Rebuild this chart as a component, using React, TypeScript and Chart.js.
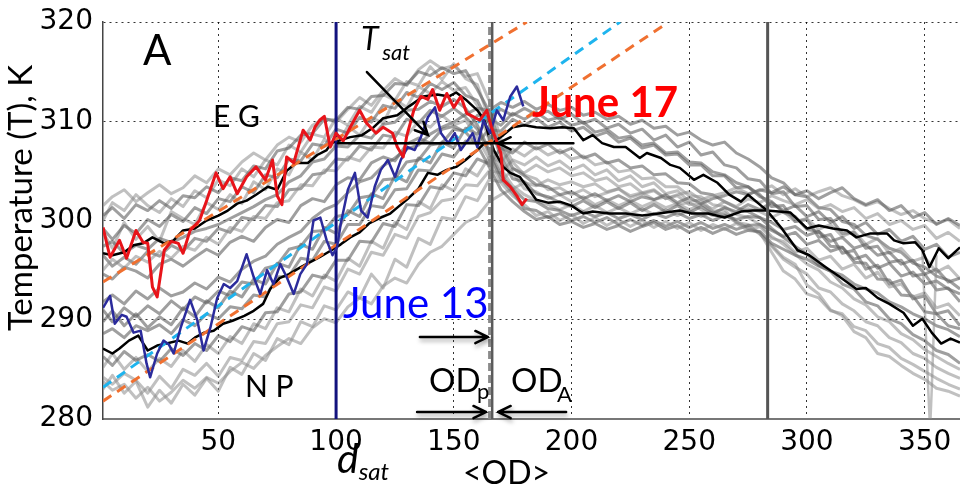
import React, { useEffect, useRef } from 'react';
import { Chart, registerables } from 'chart.js';
Chart.register(...registerables);

// ---------- data ----------
const X_TICKS = [50, 100, 150, 200, 250, 300, 350];
const Y_TICKS = [280, 290, 300, 310, 320];

const DAYS = [1,5,10,15,20,25,30,35,40,45,50,55,60,65,70,75,80,85,90,95,100,105,110,115,120,125,130,135,140,145,150,155,160,165,170,175,180,185,190,195,200,205,210,215,220,225,230,235,240,245,250,255,260,265,270,275,280,285,290,295,300,305,310,315,320,325,330,335,340,345,350,355,360,365];

const EG_1 = [300.5,301.3,300.2,301.6,301,302,301.2,302.5,302.3,303.4,302.8,304.3,304,305.5,305.2,307,307.3,308.6,308.8,310.2,310.1,311.4,311.2,312.5,312.6,313.8,313.7,315,314.6,315.4,314.8,315.1,313.2,311,307.5,305.3,304.5,303.6,303.4,302.6,302.9,302.2,302.7,302,302.5,301.9,302.4,302.1,302.6,301.8,302.3,301.7,302.2,302.5,302.9,302.6,303.1,302.8,303.4,302.6,303,302.2,302.8,303.3,302.2,301.6,302.1,301,301.5,300.3,300.8,299.6,300.2,299.5];
const EG_2 = [295,296.1,295.2,296.4,295.8,296.9,296.2,297.4,297,298.3,297.6,299.3,298.9,300.4,300.2,301.8,302,303.6,303.5,305.1,305,306.4,306,307.4,307.3,308.9,308.5,310,309.4,310.6,309.6,310.1,308.3,306.2,303.8,302.5,301.6,300.5,300.9,300,300.6,299.7,300.3,299.5,300.1,299.4,300,299.3,299.9,299.2,299.8,299,299.6,299.1,299.7,299,299.4,298.2,297.9,296.8,297.2,296,296.4,295.1,295.6,294.2,294.8,293.3,293.6,292.3,292.7,291.2,291.6,290.4];
const EG_3 = [299.2,298.1,299.5,298.7,300.1,299.4,300.6,299.9,301.3,300.7,302.2,301.9,303.4,302.8,304.6,304.3,306.2,306,307.7,307.5,309.2,308.8,310.4,309.9,311.6,311.3,312.9,312.4,313.8,313.2,313.9,312.6,312.1,309.8,306.4,304.2,303.9,302.7,302.4,301.8,301.4,302,301.3,301.9,301.2,301.8,301,301.6,300.9,301.5,300.8,301.4,300.7,301.3,300.9,301.6,301.1,301.8,301,301.5,300.4,300.9,299.8,300.4,299.2,299.8,298.6,299.1,297.9,298.4,297.1,297.6,296.3,296.8];
const EG_4 = [297.4,297.9,296.7,297.5,297.1,298.2,297.8,298.3,298.9,299.2,299.6,300.2,300.8,301.4,302.1,302.6,303.9,304.5,305.9,306.2,307.5,307.4,308.6,308.3,309.7,309.9,311.1,311.2,312,311.5,312.2,311.3,309.6,307.1,304.6,303.2,302.1,301.9,301.2,301,300.5,300.9,300.4,300.8,300.2,300.6,300.1,300.7,300.3,300.8,300.2,300.6,300,300.5,300.1,300.4,300.3,299.8,299.1,299.4,298.5,298.9,297.9,298.3,297.2,297.6,296.5,296.8,295.6,296,294.6,295.1,293.8,294.2];
const EG_5 = [300,301.8,301,302.6,301.5,300.8,302.2,301.4,303,302.3,304.1,303.5,305.2,304.4,306.1,305.6,307.6,306.9,308.7,308.4,310.3,309.6,311.5,310.9,312.7,312.1,314,313.6,315.5,314.2,315.8,314.3,313.7,310.2,306.9,304.8,303.2,302.9,302.2,302.6,301.9,302.4,301.6,302.1,301.5,302,301.4,301.9,301.3,301.7,301.1,301.6,301.2,301.9,301.4,302.2,301.8,302.5,302,301.6,302.1,301.2,301.6,300.9,301.3,300.2,300.7,299.6,300,299.1,299.5,298.2,298.8,297.9];
const EG_6 = [296.5,295.4,296.3,295.6,296.9,296.4,297.5,296.9,298.2,297.9,299.2,298.8,300.3,300.1,301.5,301.4,303.1,303.2,304.6,304.8,306.2,306.1,307.5,307.1,308.6,308.4,310.2,309.8,311.1,310.5,311.3,310.4,309.2,306.8,304.2,302.8,301.2,301,300.3,300.7,300,300.4,299.8,300.3,299.6,300.1,299.5,300,299.4,299.9,299.3,299.8,299.2,299.6,299.1,299.5,299.6,299,298.4,298.8,297.6,298,296.9,297.3,296.1,296.5,295.2,295.7,294.4,294.8,293.6,293.9,293.1,292.6];
const EG_7 = [298.8,297.2,299.8,298.1,299.4,297.9,300.9,300.2,299.6,301.8,301.1,302.6,301.7,303.9,303.1,305.2,304.6,306.9,306.1,308.2,307.4,309.5,308.6,310.4,309.8,312.2,311.4,313.5,312.8,314,313.1,313.4,311.6,308.1,305.2,303.5,302.6,302,301.6,301.1,301.6,300.9,301.5,300.8,301.3,300.7,301.2,300.6,301.1,300.5,301,300.4,300.9,300.3,300.8,301.2,300.9,300.3,300.9,299.9,300.2,299.1,299.6,298.4,298.9,297.6,298.2,296.7,297.2,295.9,296.3,294.8,295.4,294.1];
const EG_8 = [301.5,302.4,303.1,301.9,302.8,303.6,302.7,303.3,304.5,303.8,305.2,304.6,305.9,306.8,306.1,307.6,308.4,307.9,309.6,310.3,309.9,311.2,312.4,311.6,313.1,314.3,313.6,315.2,316.1,315.3,315.6,314.5,314.8,312.1,308.2,305.9,304.6,304.2,303.1,303.3,302.6,303.1,302.4,302.8,303.2,302.3,302.7,303,302.2,302.6,302.9,302.1,302.5,302.8,303.3,302.7,303,303.5,302.6,303.2,302.4,302.9,303.3,302.5,302.1,301.5,301.9,301.2,300.6,301,300.2,299.7,300.1,299.2];
const EG_9 = [294.6,294.1,295.3,294.9,294.2,295.6,296.1,295.4,296.3,297.1,296.5,297.8,298.4,297.9,299.3,300.1,299.8,301.5,302.2,301.9,303.6,304.3,304.1,305.8,306.4,306,307.7,308.3,307.8,309.2,309.5,308.9,307.6,305.4,303.1,301.9,300.9,300.1,300.4,299.6,299.9,299.3,299.7,299.1,299.5,298.9,299.4,299.8,299.1,299.5,298.8,299.3,298.7,299.2,298.6,299,298.9,297.7,297.1,296.5,296.1,295.4,294.9,294.5,293.6,293.1,292.7,291.8,291.3,290.6,290.1,289.4,289,288.3];

const NP_1 = [291,289.8,291.2,290.3,291.4,290.6,291.9,291,292.3,291.7,292.9,292.4,293.8,293.6,295.2,295.5,297.1,297.4,298.9,299,300.4,300.6,302.3,302.5,304.1,304.2,305.9,306.1,307.6,307.8,309.2,309,310.6,310.4,311.2,310.6,311.3,310.7,311,310.2,310.7,309.8,310.2,309.3,309.7,308.8,309.2,308.1,308.6,307.4,307.9,306.6,306.9,305.6,305.3,304.2,304,302.7,302.9,301.4,301.5,300.1,300.2,298.7,298.8,297.2,297.4,295.8,296,294.4,294.6,293,293.2,291.8];
const NP_2 = [284.2,283.5,284.6,283.9,282.6,284.3,283.1,285,284.4,285.6,284.3,286.2,285.9,287.8,287.6,289.6,289.8,291.5,291.2,293.3,292.9,295.1,294.6,296.8,296.5,298.6,298.2,300.4,300.8,302,302.2,303.6,303.5,305,304.8,306.1,305.6,306.4,305.5,306,305.1,305.6,304.6,305.1,304,304.5,303.4,303.8,302.7,303,301.9,302.1,300.9,301.1,299.8,299.6,298.6,297.5,296.3,295.6,293.5,292.6,291,290.4,288.8,288.2,286.6,286.3,285.4,284.6,284,283.1,282.8,282.3];
const NP_3 = [288.6,289.1,288.2,289.4,288.9,289.5,288.6,290,289.4,290.6,290.1,291.3,291.1,292.5,292.3,294.3,294.4,296.2,296,297.9,297.6,299.6,299.6,301.5,301.3,303.1,303.2,305.1,305,306.7,306.4,308,307.8,309.2,309,310.2,309.6,310.3,309.4,309.9,309,309.4,308.5,308.9,307.9,308.3,307.3,307.6,306.6,306.7,305.6,305.6,304.5,304.5,303.3,303.4,302.4,301.9,300.8,300.4,299.1,298.9,297.4,297.3,295.8,295.7,294.1,294,292.5,292.4,290.8,290.6,289.4,289.1];
const NP_4 = [286.3,285.4,286.8,285.9,286.5,285.8,287.1,286.4,287.6,286.9,288.4,287.8,289.3,288.9,290.7,290.8,292.6,292.8,294.5,294.2,296,296,297.9,297.8,299.7,299.4,301.6,301.5,303.4,303.2,304.8,304.5,306.2,305.7,307.3,306.8,307.9,307.2,307.7,306.8,307.3,306.3,306.7,305.8,306.1,305.3,305.5,304.6,304.7,303.8,303.7,302.8,302.6,301.9,301.3,300.9,300.3,299.2,298.3,297.4,296.6,295.5,294.9,293.6,293.1,291.8,291.4,290.1,289.6,288.5,287.9,286.9,286.5,285.6];
const NP_5 = [283,284.4,282.6,283.8,281.2,282.9,281.6,283.5,282.4,284.1,282.8,285.2,284.5,286.6,285.9,288.1,287.5,289.8,289.3,291.4,291,292.8,292.2,294.6,293.2,296.1,295.3,298.2,297.6,300.3,300.1,302.4,302,304.1,303.9,305.2,304.8,305.6,304.9,305.3,304.5,304.8,304,304.3,303.4,303.7,302.8,303.1,302.2,302.5,301.6,301.7,300.8,300.6,299.8,299.3,298.8,296.8,294.9,294.1,292.6,292.2,290.9,290.6,289.3,288.9,287.6,287.2,286.1,285.5,284.8,284.1,283.5,283];
const NP_6 = [289.8,290.9,289.4,290.6,289.2,290.3,289.5,291.2,290.3,291.9,291.2,292.9,292.3,294.1,293.6,295.7,295.3,297.6,297.1,299.3,298.7,301,300.4,302.7,302.2,304.5,303.9,306.3,305.8,307.9,307.3,309.3,308.7,310.3,309.6,310.8,310.2,310.9,310.1,310.4,309.6,309.9,308.9,309.2,308.3,308.5,307.6,307.8,306.8,306.9,305.9,305.8,304.9,304.6,303.8,303.4,302.6,301.4,301.5,299.9,300.1,298.3,298.6,296.7,297,295.1,295.5,293.6,294,292.1,292.4,290.6,290.9,289.4];
const NP_7 = [285.2,286.6,285,286.2,284.8,286.1,285.3,286.9,285.8,287.5,286.6,288.3,287.6,289.6,289.1,291.2,290.8,293.1,292.4,294.5,293.9,296.2,295.4,297.9,297.2,299.8,299.1,301.9,301.2,303.6,303,305.2,304.5,306.4,305.9,307.2,306.5,307.4,306.6,307.1,306.2,306.5,305.6,305.9,304.9,305.1,304.2,304.3,303.4,303.4,302.5,302.4,301.6,301.4,300.6,300.3,299.6,298.4,297.6,296.6,295.6,295,293.8,293.2,292.1,291.5,290.3,289.8,288.6,288,287,286.3,285.6,285];
const NP_8 = [291.8,292.5,291.6,292.9,292.1,293.2,292.4,292.8,293.7,293.1,294.3,293.8,295.1,295.9,296.4,297.6,298.3,298.9,300.2,301.1,301.6,302.8,303.9,304.3,305.5,306.3,307.2,307.6,308.7,309.4,309.9,310.7,311.3,311.1,311.9,311.4,312,311.2,311.7,311.1,311.4,310.6,310.9,310.2,310.5,309.7,310.1,309.3,309.5,308.6,308.9,308.1,307.6,307.9,306.8,306.2,305.4,304.3,303.8,302.6,302.4,301.3,301.1,299.9,299.6,298.5,298.1,297.2,296.8,295.7,295.3,294.4,294,293.1];
const NP_9 = [283.8,282.9,283.5,282.1,283.2,281.8,282.7,283.9,283.1,284.2,283.6,284.8,285.7,285.1,286.4,287.3,288.1,287.6,289.2,290.1,289.7,291.3,292.2,291.6,293.4,294.2,293.7,295.6,296.8,297.4,298.6,299.8,300.4,301.9,302.6,303.2,303.8,303.5,304.1,303.6,303.9,303.4,303.7,302.9,303.2,302.5,302.8,302.1,302.4,301.6,301.8,301.1,300.5,300.8,299.9,299.2,298.7,297.4,296.1,295.3,294.6,293.2,292.8,291.6,290.9,289.8,289.4,288.2,287.7,286.6,286.1,285.2,284.6,284.1];

const SPIKE_DAYS = [349, 351.5, 352.3, 353, 355];
const SPIKE_T = [297, 283, 279, 283, 296.5];

const BLACK_EG_DAYS = [1,5,10,14,18,22,27,31,35,40,45,50,54,58,62,66,71,75,79,83,88,92,96,98,102,106,111,116,120,126,131,137,143,148,151,155,160,163,165,167,171,174,178,182,185,190,195,200,205,209,216,223,230,237,246,251,258,265,272,277,283,288,293,300,305,311,317,321,327,334,337,341,346,349,352,356,360,365];
const BLACK_EG_T = [296.7,296.5,296.8,297.5,297.7,298.3,297.7,298,299,299.2,300,300.5,301,301.7,302,302.6,303.4,303.1,305,305.8,305.8,306.6,307.1,307.8,308.1,308.4,308.6,309.4,310.3,310.6,311.5,312.5,312.7,312.5,312.9,312.2,311.1,310.1,308.4,307.1,305.4,304.8,304.4,303.1,302.1,301.8,301.9,301.5,300.7,300.9,300.7,300.7,300.5,300.7,301,300.7,300.7,300.3,300.9,301,301,300.9,300.8,299.2,299.5,299.2,299,298.3,298.7,298.7,298,297.7,297.8,297,295.3,297.2,296.2,297.3];

const BLACK_NP_DAYS = [1,5,8,12,16,20,24,28,33,37,40,44,48,52,56,61,65,69,72,76,80,85,89,93,98,102,106,110,114,119,123,126,131,135,139,143,147,151,155,160,163,167,171,175,180,185,191,196,201,205,209,213,218,223,229,232,238,242,246,252,256,262,267,272,275,280,283,289,296,301,308,314,321,325,330,335,341,345,349,353,357,361,365];
const BLACK_NP_T = [287.1,286.6,287.1,287.9,288.4,286.9,287.4,287.6,287.9,287.6,288.2,288.7,288.9,289.6,289.9,290.4,290.9,291.6,293.1,294.2,294.6,295.3,295.8,296.3,297,297.6,298.3,298.8,299.7,300.3,300.7,301.3,302.3,303.2,304.8,304.6,305.1,305.4,306.1,307.1,307.8,307.9,308.6,309.4,309.6,309.4,309.3,309.4,309.3,308.1,308.6,307.8,307.4,307.4,306.3,306.8,306.3,305.6,305.3,304.1,304.6,303.8,302.6,301.9,302.6,301.6,301,299.3,297,296.5,295.3,294.3,293.1,293.2,292.2,291.6,290.7,289.4,290.1,288.7,287.6,288.1,287.7];

const JUNE17_DAYS = [1,4,8,11,15,18,20,22,24,27,30,33,35,38,42,45,49,52,55,58,62,66,70,73,75,77,79,82,86,89,91,93,95,97.5,100,103,106,110,113,117,120,124,126,128.5,130,133,136,139,141,144,147,150,153,155.5,158,161,164,166,168,170,171,174,177,179,181];
const JUNE17_T = [299.3,296.3,298,296.2,299,297.8,297.7,293.3,292.3,297,297.9,297.7,296.7,299,300,302,304.8,303.2,304.4,302.7,304.4,305.4,304.1,306.1,302.5,301.6,306.4,305.8,309.1,308.1,309.4,310.1,310.5,307.4,308.8,308,309.4,311.1,309.8,308.8,309.4,308.8,307.4,306.4,308.5,311.1,312.5,312.2,313.2,311.1,312.8,311.4,312.5,310.8,310.5,310.1,311.1,309.4,308.1,306.8,304.1,303.4,302.4,301.6,302.2];

const JUNE13_DAYS = [1,4,6,9,11,14,17,19.5,21,24,26.7,29,31,34,38,41,43.7,46.6,49.5,52.3,55,58,62,65,67.8,70.7,73.4,76.3,79,82,84.8,87.6,90.4,93.3,96,98.5,100.4,102,105,108,110.6,113.4,116.4,119,122,125,127.5,130.4,133.4,136,139,142,144.6,147.6,150.4,153,156,158,160,162.6,165.4,168.3,171,174,176.8,179.5];
const JUNE13_T = [291.2,292.4,289.6,290.5,290.3,288.7,288.9,285.6,284.2,286.6,287.9,287.5,286.6,289.2,292,290,286.9,289.2,292.2,293.6,293.2,293.9,296.6,294.3,292.6,295,293.6,295.6,294.3,292.6,294.6,295.6,300,300.3,298,296.5,297.3,299.7,303.1,304.8,301,300.3,303.4,305.1,306.1,304.4,306.1,307.4,307.1,308.4,310.4,311.4,308.8,307.8,308.8,307.1,308.1,308.8,307.4,310.1,308.8,311.1,310.1,312.5,313.5,311.5];

// dashed reference lines [start, end]
const ORANGE_UP_DAYS = [1, 181];
const ORANGE_UP_T = [293.8, 320];
const CYAN_DAYS = [1, 220.6];
const CYAN_T = [283.2, 320];
const ORANGE_LO_DAYS = [1, 240];
const ORANGE_LO_T = [281.8, 319.8];

// vertical markers
const D_SAT = 100;
const OD_P = 165.2;
const OD_A = 166.3;
const LATE_MARK = 283.3;

function pts(xs: number[], ys: number[]) {
  return xs.map((x, i) => ({ x, y: ys[i] }));
}

function ln(data: any[], color: string, width: number, order: number, dash: number[] = []) {
  return {
    data,
    borderColor: color,
    backgroundColor: color,
    borderWidth: width,
    pointRadius: 0,
    pointHoverRadius: 0,
    fill: false,
    tension: 0,
    order,
    borderDash: dash,
    borderCapStyle: 'butt' as const,
    borderJoinStyle: 'round' as const,
  };
}

const GRAY_DARK = 'rgba(95,95,95,0.6)';
const GRAY_LIGHT = 'rgba(140,140,140,0.55)';

const annotPlugin = {
  id: 'annot',
  afterDatasetsDraw(chart: any) {
    const { ctx } = chart;
    const xs = chart.scales.x;
    const ys = chart.scales.y;
    const px = (v: number) => xs.getPixelForValue(v);
    const py = (v: number) => ys.getPixelForValue(v);

    ctx.save();
    ctx.textBaseline = 'alphabetic';
    ctx.textAlign = 'left';
    const texts = [
      { t: 'A', x: 18, y: 315.7, f: '42px Lato', c: '#000' },
      { t: 'E G', x: 47.7, y: 309.4, f: '30px Lato', c: '#000' },
      { t: 'N P', x: 61.3, y: 282.2, f: '30px Lato', c: '#000' },
      { t: 'T', x: 110.6, y: 317.2, f: 'italic 32px Lato', c: '#000' },
      { t: 'sat', x: 119.6, y: 316.17, f: 'italic 22px Lato', c: '#000' },
      { t: 'June 17', x: 183.2, y: 310.43, f: 'bold 42px Lato', c: '#ff0000' },
      { t: 'June 13', x: 102.9, y: 290.18, f: '42px Lato', c: '#0000ff' },
      { t: 'OD', x: 139.5, y: 282.72, f: '33px Lato', c: '#000' },
      { t: 'p', x: 159.8, y: 282.0, f: '22px Lato', c: '#000' },
      { t: 'OD', x: 174.3, y: 282.72, f: '33px Lato', c: '#000' },
      { t: 'A', x: 193.8, y: 281.71, f: '22px Lato', c: '#000' },
      { t: 'd', x: 100.4, y: 274.56, f: 'italic 41px Lato', c: '#000' },
      { t: 'sat', x: 109.6, y: 273.85, f: 'italic 24px Lato', c: '#000' },
      { t: '<OD>', x: 153.9, y: 273.45, f: '32px Lato', c: '#000' },
    ];
    for (const t of texts) {
      ctx.font = t.f;
      ctx.fillStyle = t.c;
      ctx.fillText(t.t, px(t.x), py(t.y));
    }

    const arrow = (x1: number, y1: number, x2: number, y2: number, head: boolean, shadow: boolean) => {
      const a1 = px(x1), b1 = py(y1), a2 = px(x2), b2 = py(y2);
      ctx.save();
      if (shadow) {
        ctx.shadowColor = 'rgba(0,0,0,0.35)';
        ctx.shadowBlur = 4;
        ctx.shadowOffsetX = 1;
        ctx.shadowOffsetY = 3;
      }
      ctx.strokeStyle = '#000';
      ctx.lineWidth = 2.5;
      ctx.lineCap = 'round';
      ctx.beginPath();
      ctx.moveTo(a1, b1);
      ctx.lineTo(a2, b2);
      if (head) {
        const ang = Math.atan2(b2 - b1, a2 - a1);
        const L = 14, sp = 0.45;
        ctx.moveTo(a2 - L * Math.cos(ang - sp), b2 - L * Math.sin(ang - sp));
        ctx.lineTo(a2, b2);
        ctx.lineTo(a2 - L * Math.cos(ang + sp), b2 - L * Math.sin(ang + sp));
      }
      ctx.stroke();
      ctx.restore();
    };
    arrow(113.1, 314.96, 139.0, 308.61, true, false);
    arrow(100.8, 307.78, 168.8, 307.78, false, false);
    arrow(200.8, 307.78, 168.8, 307.78, true, false);
    arrow(135.6, 288.26, 164.5, 288.26, true, true);
    arrow(134.4, 280.7, 163.7, 280.7, true, true);
    arrow(197.7, 280.7, 168.8, 280.7, true, true);

    ctx.restore();

    // y axis title
    ctx.save();
    ctx.translate(32, 198);
    ctx.rotate(-Math.PI / 2);
    ctx.font = '33px Lato';
    ctx.fillStyle = '#000';
    ctx.textAlign = 'center';
    ctx.textBaseline = 'alphabetic';
    ctx.fillText('Temperature (T), K', 0, 0);
    ctx.restore();
  },
};

export default function App() {
  const ref = useRef<HTMLCanvasElement | null>(null);
  useEffect(() => {
    if (!ref.current) return;
    const grays = [
      { d: EG_1, c: GRAY_DARK }, { d: EG_2, c: GRAY_LIGHT }, { d: EG_3, c: GRAY_DARK },
      { d: EG_4, c: GRAY_DARK }, { d: EG_5, c: GRAY_LIGHT }, { d: EG_6, c: GRAY_DARK },
      { d: EG_7, c: GRAY_LIGHT }, { d: EG_8, c: GRAY_LIGHT }, { d: EG_9, c: GRAY_DARK },
      { d: NP_1, c: GRAY_DARK }, { d: NP_2, c: GRAY_LIGHT }, { d: NP_3, c: GRAY_DARK },
      { d: NP_4, c: GRAY_DARK }, { d: NP_5, c: GRAY_LIGHT }, { d: NP_6, c: GRAY_DARK },
      { d: NP_7, c: GRAY_LIGHT }, { d: NP_8, c: GRAY_DARK }, { d: NP_9, c: GRAY_LIGHT },
    ];
    const datasets: any[] = [
      ln(pts(JUNE17_DAYS, JUNE17_T), '#e8141a', 3, 1),
      ln(pts(JUNE13_DAYS, JUNE13_T), '#2b2b9c', 2.5, 2),
      ln(pts(CYAN_DAYS, CYAN_T), '#1eb4ee', 3, 3, [10, 7]),
      ln(pts(ORANGE_UP_DAYS, ORANGE_UP_T), '#f07030', 3, 3, [10, 7]),
      ln(pts(ORANGE_LO_DAYS, ORANGE_LO_T), '#f07030', 3, 3, [10, 7]),
      ln(pts([D_SAT, D_SAT], [280, 320]), '#12127e', 3, 4),
      ln(pts([OD_P, OD_P], [280, 320]), '#8a8a8a', 3, 4, [8, 4]),
      ln(pts([OD_A, OD_A], [280, 320]), '#5a5a5a', 2.5, 4),
      ln(pts([LATE_MARK, LATE_MARK], [280, 320]), '#555555', 3, 4),
      ln(pts(BLACK_EG_DAYS, BLACK_EG_T), '#000', 2.5, 5),
      ln(pts(BLACK_NP_DAYS, BLACK_NP_T), '#000', 2.5, 5),
      ln(pts(SPIKE_DAYS, SPIKE_T), GRAY_LIGHT, 2.5, 10),
      ...grays.map((g) => ln(pts(DAYS, g.d), g.c, 3, 10)),
    ];
    const chart = new Chart(ref.current, {
      type: 'line',
      data: { datasets },
      plugins: [annotPlugin],
      options: {
        responsive: false,
        animation: false,
        events: [],
        layout: { padding: { top: 22, left: 0, right: 0, bottom: 0 } },
        plugins: { legend: { display: false }, tooltip: { enabled: false }, title: { display: false } },
        scales: {
          x: {
            type: 'linear',
            min: 1,
            max: 365,
            afterBuildTicks: (s: any) => { s.ticks = X_TICKS.map((v) => ({ value: v })); },
            afterFit: (s: any) => { s.height = 69; s.paddingLeft = 0; s.paddingRight = 0; },
            ticks: { font: { family: 'DejaVu Sans', size: 28 }, color: '#000', padding: 7, maxRotation: 0, autoSkip: false },
            grid: { color: 'rgba(0,0,0,0.8)', lineWidth: 1, drawTicks: false },
            border: { color: '#777', width: 2, dash: [2, 4] },
          },
          y: {
            type: 'linear',
            min: 280,
            max: 320,
            afterBuildTicks: (s: any) => { s.ticks = Y_TICKS.map((v) => ({ value: v })); },
            afterFit: (s: any) => { s.width = 103; s.paddingTop = 0; s.paddingBottom = 0; },
            ticks: { font: { family: 'DejaVu Sans', size: 28 }, color: '#000', padding: 10 },
            grid: { color: 'rgba(0,0,0,0.8)', lineWidth: 1, drawTicks: false },
            border: { color: '#444', width: 1.5, dash: [2, 4] },
          },
        },
      } as any,
    });
    return () => chart.destroy();
  }, []);
  return (
    <div style={{ position: 'fixed', left: 0, top: 0, width: 960, height: 488, background: '#fff' }}>
      <canvas ref={ref} width={960} height={488} style={{ display: 'block' }} />
    </div>
  );
}
